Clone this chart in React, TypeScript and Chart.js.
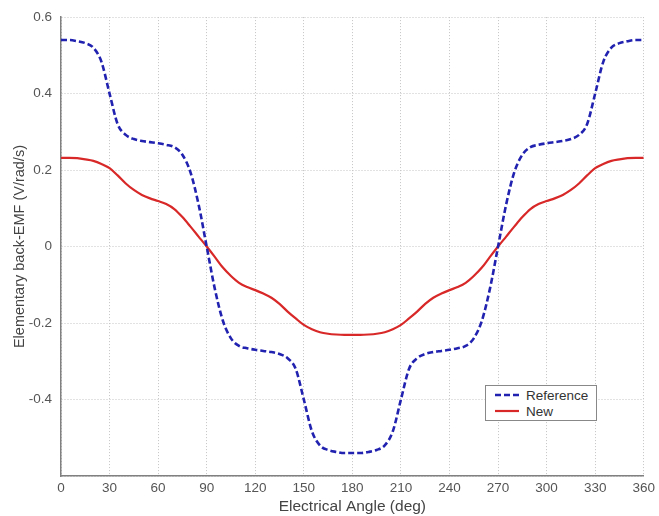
import React, { useEffect, useRef } from "react";
import { Chart, registerables } from "chart.js";

Chart.register(...registerables);

const angles: number[] = [
  0, 5, 10, 15, 20, 25, 30, 35, 40, 45, 50, 55, 60, 65, 70, 75, 80, 85, 90,
  95, 100, 105, 110, 115, 120, 125, 130, 135, 140, 145, 150, 155, 160, 165, 170, 175, 180,
  185, 190, 195, 200, 205, 210, 215, 220, 225, 230, 235, 240, 245, 250, 255, 260, 265, 270,
  275, 280, 285, 290, 295, 300, 305, 310, 315, 320, 325, 330, 335, 340, 345, 350, 355, 360,
];

const referenceEmf: number[] = [
  0.54, 0.54, 0.537, 0.532, 0.52, 0.483, 0.4, 0.32, 0.292, 0.281, 0.276, 0.273, 0.27, 0.266, 0.26, 0.24, 0.194, 0.11, 0.0,
  -0.11, -0.194, -0.24, -0.26, -0.266, -0.27, -0.273, -0.276, -0.281, -0.292, -0.32, -0.4, -0.483, -0.52, -0.532, -0.537, -0.54, -0.54,
  -0.54, -0.537, -0.532, -0.52, -0.483, -0.4, -0.32, -0.292, -0.281, -0.276, -0.273, -0.27, -0.266, -0.26, -0.24, -0.194, -0.11, 0.0,
  0.11, 0.194, 0.24, 0.26, 0.266, 0.27, 0.273, 0.276, 0.281, 0.292, 0.32, 0.4, 0.483, 0.52, 0.532, 0.537, 0.54, 0.54,
];

const newEmf: number[] = [
  0.232, 0.232, 0.231, 0.228, 0.224, 0.216, 0.205, 0.186, 0.165, 0.148, 0.135, 0.126, 0.119, 0.111, 0.098, 0.077, 0.052, 0.026, 0.0,
  -0.027, -0.055, -0.077, -0.095, -0.106, -0.114, -0.123, -0.134, -0.15, -0.17, -0.188, -0.205, -0.216, -0.224, -0.228, -0.23, -0.231, -0.231,
  -0.231, -0.23, -0.228, -0.224, -0.216, -0.205, -0.188, -0.17, -0.15, -0.134, -0.123, -0.114, -0.106, -0.095, -0.077, -0.055, -0.027, 0.0,
  0.026, 0.052, 0.077, 0.098, 0.111, 0.119, 0.126, 0.135, 0.148, 0.165, 0.186, 0.205, 0.216, 0.224, 0.228, 0.231, 0.232, 0.232,
];

const seriesNames: string[] = ["Reference", "New"];
const xTitle = "Electrical Angle (deg)";
const yTitle = "Elementary back-EMF (V/rad/s)";

const BLUE = "#2222b0";
const RED = "#d82828";
const FONT = "'Liberation Sans', Arial, sans-serif";

export default function App() {
  const ref = useRef<HTMLCanvasElement>(null);

  useEffect(() => {
    if (!ref.current) return;
    const chart = new Chart(ref.current, {
      type: "line",
      data: {
        datasets: [
          {
            label: seriesNames[0],
            data: angles.map((a, i) => ({ x: a, y: referenceEmf[i] })),
            borderColor: BLUE,
            borderWidth: 2.6,
            borderDash: [6, 3],
            pointRadius: 0,
            cubicInterpolationMode: "monotone",
            fill: false,
          },
          {
            label: seriesNames[1],
            data: angles.map((a, i) => ({ x: a, y: newEmf[i] })),
            borderColor: RED,
            borderWidth: 2.2,
            pointRadius: 0,
            cubicInterpolationMode: "monotone",
            fill: false,
          },
        ],
      },
      options: {
        responsive: false,
        animation: false,
        layout: { padding: { left: 10, top: 17, right: 12, bottom: 0 } },
        plugins: { legend: { display: false }, tooltip: { enabled: false } },
        scales: {
          x: {
            type: "linear",
            min: 0,
            max: 360,
            ticks: { stepSize: 30, padding: 4, color: "#555", font: { family: FONT, size: 13.5 } },
            grid: { color: "#c4c4c4", drawTicks: false, lineWidth: 1 },
            border: { display: true, color: "#808080", width: 1.5, dash: [1, 2] },
            title: { display: true, text: xTitle, color: "#444", padding: 0, font: { family: FONT, size: 15.5 } },
            afterFit: (s: any) => { s.height = 40; },
          },
          y: {
            type: "linear",
            min: -0.6,
            max: 0.6,
            ticks: {
              stepSize: 0.2,
              padding: 9,
              color: "#555",
              font: { family: FONT, size: 13.5 },
              callback: (v: any) => {
                const n = Math.round(Number(v) * 10) / 10;
                if (n === -0.6) return "";
                return n === 0 ? "0" : String(n);
              },
            },
            grid: { color: "#c4c4c4", drawTicks: false, lineWidth: 1 },
            border: { display: true, color: "#808080", width: 1.5, dash: [1, 2] },
            title: { display: true, text: yTitle, color: "#444", padding: { top: 1, bottom: 0 }, font: { family: FONT, size: 14.5 } },
            afterFit: (s: any) => { s.width = 51; },
          },
        },
      },
    });
    return () => chart.destroy();
  }, []);

  return (
    <div style={{ position: "fixed", left: 0, top: 0, width: 659, height: 516, background: "#fff" }}>
      <canvas ref={ref} width={659} height={516} style={{ width: 659, height: 516, display: "block" }} />
      <div
        style={{
          position: "absolute",
          left: 485,
          top: 385,
          width: 110,
          height: 34,
          border: "1px solid #888",
          background: "#fff",
          fontFamily: FONT,
          fontSize: 13.5,
          color: "#333",
        }}
      >
        <div style={{ position: "absolute", left: 8, top: 1, height: 16, display: "flex", alignItems: "center" }}>
          <svg width={26} height={6} style={{ marginRight: 6 }}>
            <line x1={1} y1={3} x2={25} y2={3} stroke={BLUE} strokeWidth={2.6} strokeDasharray="6 3" />
          </svg>
          <span>{seriesNames[0]}</span>
        </div>
        <div style={{ position: "absolute", left: 8, top: 17, height: 16, display: "flex", alignItems: "center" }}>
          <svg width={26} height={6} style={{ marginRight: 6 }}>
            <line x1={1} y1={3} x2={25} y2={3} stroke={RED} strokeWidth={2.2} />
          </svg>
          <span>{seriesNames[1]}</span>
        </div>
      </div>
    </div>
  );
}
